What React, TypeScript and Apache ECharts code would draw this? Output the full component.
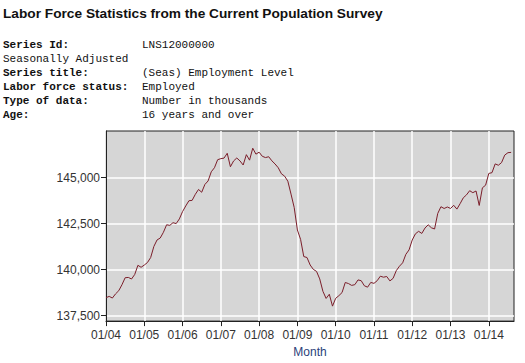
import React, { useEffect, useRef } from "react";
import * as echarts from "echarts";

// Monthly employment level (thousands), Jan 2004 - Aug 2014
const employed2004 = [138472, 138542, 138453, 138680, 138852, 139174, 139556, 139573, 139487, 139732, 140231, 140125];
const employed2005 = [140245, 140385, 140654, 141254, 141609, 141714, 142026, 142434, 142401, 142548, 142499, 142752];
const employed2006 = [143150, 143457, 143741, 143761, 144089, 144353, 144202, 144625, 144815, 145314, 145534, 145970];
const employed2007 = [146028, 146057, 146320, 145586, 145903, 146063, 145905, 145682, 146244, 145946, 146595, 146273];
const employed2008 = [146378, 146156, 146086, 146132, 145908, 145737, 145532, 145203, 145076, 144802, 144100, 143369];
const employed2009 = [142152, 141640, 140707, 140656, 140248, 140009, 139901, 139492, 138818, 138432, 138659, 138013];
const employed2010 = [138438, 138581, 138751, 139297, 139241, 139141, 139179, 139438, 139396, 139119, 139044, 139301];
const employed2011 = [139250, 139394, 139639, 139586, 139624, 139384, 139524, 139942, 140183, 140368, 140826, 141070];
const employed2012 = [141608, 141943, 142079, 141963, 142257, 142432, 142272, 142204, 143052, 143415, 143319, 143401];
const employed2013 = [143322, 143492, 143286, 143579, 143898, 144058, 144285, 144179, 144270, 143485, 144443, 144586];
const employed2014 = [145224, 145266, 145742, 145669, 145814, 146221, 146352, 146368];

const xTickLabels = ["01/04", "01/05", "01/06", "01/07", "01/08", "01/09", "01/10", "01/11", "01/12", "01/13", "01/14"];
const yTickValues = [137500, 140000, 142500, 145000];

const titleText = "Labor Force Statistics from the Current Population Survey";
const metaKeys = ["Series Id:", "Seasonally Adjusted", "Series title:", "Labor force status:", "Type of data:", "Age:"];
const metaKeyBold = [true, false, true, true, true, true];
const metaValues = ["LNS12000000", "", "(Seas) Employment Level", "Employed", "Number in thousands", "16 years and over"];

export default function App() {
  const ref = useRef<HTMLDivElement>(null);

  useEffect(() => {
    if (!ref.current) return;
    const chart = echarts.init(ref.current, null, { renderer: "svg" });

    const values = [
      ...employed2004, ...employed2005, ...employed2006, ...employed2007, ...employed2008,
      ...employed2009, ...employed2010, ...employed2011, ...employed2012, ...employed2013, ...employed2014,
    ];
    const data = values.map((v, i) => [i, v]);
    const xTickIdx = xTickLabels.map((_, i) => i * 12);

    const sans = "'Liberation Sans', Arial, sans-serif";
    const mono = "'Liberation Mono', 'Courier New', monospace";

    const graphics: any[] = [
      {
        type: "text",
        x: 3,
        y: 13,
        style: {
          text: titleText,
          fontSize: 13.7,
          fontWeight: "bold",
          fontFamily: sans,
          fill: "#111",
          verticalAlign: "middle",
        },
      },
    ];
    metaKeys.forEach((k, i) => {
      const y = 45 + i * 14;
      graphics.push({
        type: "text",
        x: 3,
        y,
        style: {
          text: k,
          fontSize: 11,
          fontWeight: metaKeyBold[i] ? "bold" : "normal",
          fontFamily: mono,
          fill: "#111",
          verticalAlign: "middle",
        },
      });
      if (metaValues[i]) {
        graphics.push({
          type: "text",
          x: 142,
          y,
          style: {
            text: metaValues[i],
            fontSize: 11,
            fontFamily: mono,
            fill: "#111",
            verticalAlign: "middle",
          },
        });
      }
    });

    chart.setOption({
      animation: false,
      backgroundColor: "#ffffff",
      graphic: graphics,
      grid: {
        left: 106,
        top: 131,
        width: 408,
        height: 193,
        show: true,
        backgroundColor: "#d6d6d6",
        borderColor: "#222",
        borderWidth: 1,
      },
      xAxis: {
        type: "value",
        min: 0,
        max: 127.9,
        name: "Month",
        nameLocation: "middle",
        nameGap: 23,
        nameTextStyle: { color: "#2b3f7a", fontSize: 12, fontFamily: sans },
        axisLine: { show: true, lineStyle: { color: "#222", width: 1 } },
        axisTick: { show: true, length: 5, customValues: xTickIdx, lineStyle: { color: "#222" } },
        axisLabel: {
          customValues: xTickIdx,
          margin: 8,
          fontSize: 12,
          color: "#333",
          fontFamily: sans,
          formatter: (v: number) => {
            const idx = Math.round(v / 12);
            return xTickLabels[idx] ?? "";
          },
        },
        splitLine: { show: true, lineStyle: { color: "#ffffff", width: 1.5 } },
      },
      yAxis: {
        type: "value",
        min: 137200,
        max: 147530,
        axisLine: { show: true, lineStyle: { color: "#222", width: 1 } },
        axisTick: { show: true, length: 5, customValues: yTickValues, lineStyle: { color: "#222" } },
        axisLabel: {
          customValues: yTickValues,
          margin: 6,
          fontSize: 12,
          color: "#333",
          fontFamily: sans,
          formatter: (v: number) => v.toLocaleString("en-US"),
        },
        splitLine: { show: true, lineStyle: { color: "#ffffff", width: 1.5 } },
      },
      series: [
        {
          type: "line",
          data,
          symbol: "none",
          lineStyle: { color: "#7b1e2a", width: 1 },
          itemStyle: { color: "#7b1e2a" },
        },
      ],
    });

    return () => chart.dispose();
  }, []);

  return (
    <div style={{ position: "absolute", left: 0, top: 0, width: 525, height: 363, background: "#fff" }}>
      <div ref={ref} style={{ width: 525, height: 363 }} />
    </div>
  );
}
